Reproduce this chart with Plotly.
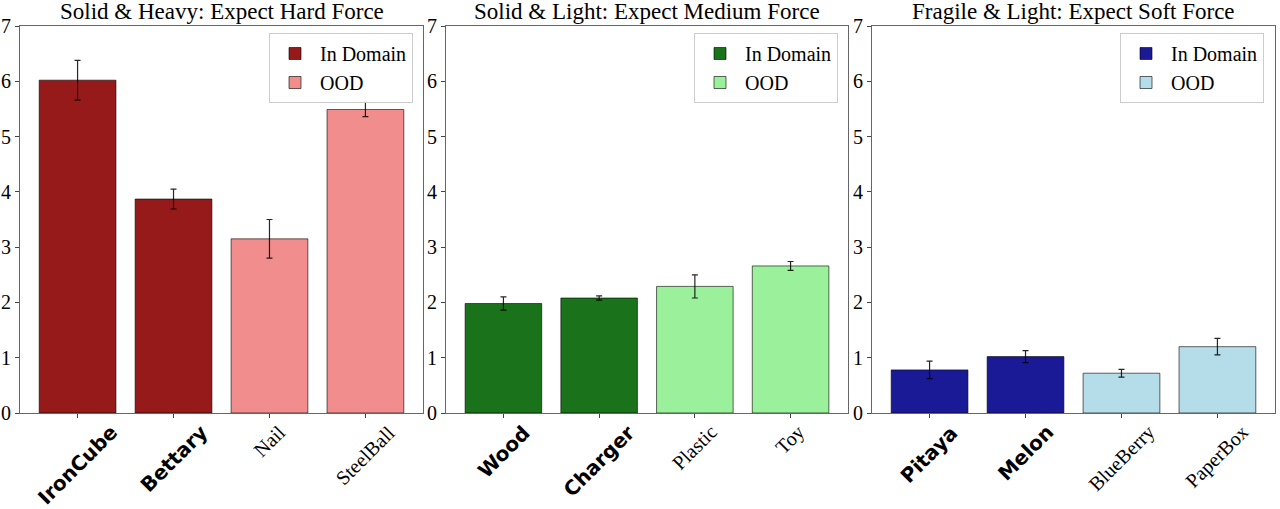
import plotly.graph_objects as go

W, H = 1280, 509

titles = ["Solid & Heavy: Expect Hard Force",
          "Solid & Light: Expect Medium Force",
          "Fragile & Light: Expect Soft Force"]

in_names = [["IronCube", "Bettary"], ["Wood", "Charger"], ["Pitaya", "Melon"]]
ood_names = [["Nail", "SteelBall"], ["Plastic", "Toy"], ["BlueBerry", "PaperBox"]]

in_vals = [[6.02, 3.87], [1.98, 2.08], [0.78, 1.02]]
in_errs = [[0.36, 0.18], [0.12, 0.04], [0.16, 0.11]]
ood_vals = [[3.15, 5.49], [2.29, 2.66], [0.72, 1.20]]
ood_errs = [[0.35, 0.13], [0.21, 0.08], [0.07, 0.15]]

in_colors = ["#971A1A", "#1A731A", "#1A1A97"]
ood_colors = ["#F28D8D", "#9BF09B", "#B5DCE9"]

y_ticks = [0, 1, 2, 3, 4, 5, 6, 7]

# layout geometry (pixels)
x_px = [(20, 423), (446, 848), (872, 1275)]
y_top, y_bot = 26, 413
legend_right = [413, 838, 1264]

SERIF = "Liberation Serif, Times New Roman, serif"
SANS = "DejaVu Sans, sans-serif"

fig = go.Figure()
annotations = []
layout = dict(
    width=W, height=H,
    margin=dict(l=0, r=0, t=0, b=0),
    paper_bgcolor="white", plot_bgcolor="white",
    template="none",
    barmode="group",
    showlegend=True,
)

for i in range(3):
    xa = "x" if i == 0 else f"x{i+1}"
    ya = "y" if i == 0 else f"y{i+1}"
    lg = "legend" if i == 0 else f"legend{i+1}"
    cats = in_names[i] + ood_names[i]
    fig.add_trace(go.Bar(
        x=in_names[i], y=in_vals[i], name="In Domain",
        marker=dict(color=in_colors[i], line=dict(color="rgba(0,0,0,0.6)", width=1)),
        error_y=dict(type="data", array=in_errs[i], color="rgba(0,0,0,0.85)", thickness=1.2, width=3),
        width=0.8, xaxis=xa, yaxis=ya, legend=lg, offsetgroup=str(i),
    ))
    fig.add_trace(go.Bar(
        x=ood_names[i], y=ood_vals[i], name="OOD",
        marker=dict(color=ood_colors[i], line=dict(color="rgba(0,0,0,0.6)", width=1)),
        error_y=dict(type="data", array=ood_errs[i], color="rgba(0,0,0,0.85)", thickness=1.2, width=3),
        width=0.8, xaxis=xa, yaxis=ya, legend=lg, offsetgroup=str(i),
    ))
    x0, x1 = x_px[i]
    axkey = "xaxis" if i == 0 else f"xaxis{i+1}"
    aykey = "yaxis" if i == 0 else f"yaxis{i+1}"
    layout[axkey] = dict(
        domain=[x0 / W, x1 / W], anchor=ya, type="category",
        categoryorder="array", categoryarray=cats,
        range=[-0.6, 3.6], showticklabels=False, ticks="outside", ticklen=4,
        tickcolor="#444", showgrid=False, zeroline=False,
        showline=True, linecolor="#666", linewidth=1, mirror=True,
        automargin=False,
    )
    layout[aykey] = dict(
        domain=[1 - y_bot / H, 1 - y_top / H], anchor=xa,
        range=[0, 7], tickvals=y_ticks, ticktext=[str(t) for t in y_ticks],
        ticks="outside", ticklen=4, tickcolor="#444",
        tickfont=dict(family=SERIF, size=20, color="black"),
        showgrid=False, zeroline=False,
        showline=True, linecolor="#666", linewidth=1, mirror=True,
        automargin=False,
    )
    layout[lg] = dict(
        x=legend_right[i] / W, y=1 - 33 / H, xanchor="right", yanchor="top",
        xref="paper", yref="paper",
        bgcolor="rgba(255,255,255,0.8)", bordercolor="#cccccc", borderwidth=1,
        font=dict(family=SERIF, size=20, color="black"),
        itemwidth=40, tracegroupgap=0,
    )
    # title
    annotations.append(dict(
        text=titles[i], x=(x0 + x1) / 2 / W, y=1 - y_top / H,
        xref="paper", yref="paper", xanchor="center", yanchor="bottom",
        showarrow=False, font=dict(family=SERIF, size=23, color="black"),
    ))
    # rotated category labels
    for j, c in enumerate(cats):
        bold = j < 2
        annotations.append(dict(
            text=c, x=c, y=0, xref=xa, yref=ya,
            xanchor="center", yanchor="top", yshift=-5,
            textangle=-45, showarrow=False,
            font=dict(family=SANS if bold else SERIF, size=20, color="black",
                      weight="bold" if bold else "normal"),
        ))

layout["annotations"] = annotations
fig.update_layout(**layout)
fig.write_html("out.html")
